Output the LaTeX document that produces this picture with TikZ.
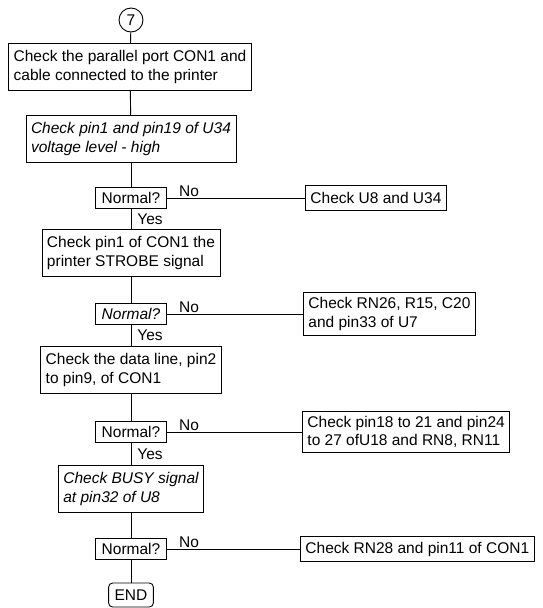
\documentclass[tikz,border=0pt]{standalone}
\usepackage{fontspec}
\setmainfont{Liberation Sans}
\usetikzlibrary{positioning, calc}

\begin{document}
\begin{tikzpicture}[x=1pt, y=-1pt, line width=0.9pt,
  every node/.style={font=\fontsize{15.5}{18.5}\selectfont},
  passo/.style={draw, align=left, inner xsep=5pt, inner ysep=7pt},
  domanda/.style={draw, minimum height=21pt, inner xsep=6pt, inner ysep=2pt},
  guasto/.style={draw, align=left, anchor=west, inner xsep=5pt, inner ysep=5pt},
  etsi/.style={right=5pt, inner sep=1pt},
  etno/.style={pos=0, anchor=south west, xshift=11pt, inner sep=1pt}]

  \useasboundingbox (0,0) rectangle (543,608);

  % Inizio
  \node[draw, circle, inner sep=0pt, minimum size=24pt] (start) at (131,20) {7};

  % Colonna principale
  \node[passo] (p1) at (130,67) {Check the parallel port CON1 and\\cable connected to the printer};
  \node[passo] (p2) at (131,139) {\itshape Check pin1 and pin19 of U34\\\itshape voltage level - high};
  \node[domanda] (n1) at (131,198) {Normal?};
  \node[passo] (p3) at (131,253) {Check pin1 of CON1 the\\printer STROBE signal};
  \node[domanda] (n2) at (131,314) {\itshape Normal?};
  \node[passo] (p4) at (131,370) {Check the data line, pin2\\to pin9, of CON1};
  \node[domanda] (n3) at (131,432) {Normal?};
  \node[passo] (p5) at (131,489) {\itshape Check BUSY signal\\\itshape at pin32 of U8};
  \node[domanda] (n4) at (131,549) {Normal?};
  \node[draw, rounded corners=4pt, minimum height=24pt, inner xsep=6pt] (fine) at (131,595) {END};

  % Rami "No"
  \node[guasto, minimum height=25pt] (f1) at (305,198) {Check U8 and U34};
  \node[guasto] (f2) at (303,314) {Check RN26, R15, C20\\and pin33 of U7};
  \node[guasto] (f3) at (302,432) {Check pin18 to 21 and pin24\\to 27 ofU18 and RN8, RN11};
  \node[guasto, minimum height=23pt] (f4) at (300,549) {Check RN28 and pin11 of CON1};

  % Collegamenti
  \draw (start) -- (p1);
  \draw (p1) -- (p2);
  \draw (p2) -- (n1);
  \draw (n1) -- node[etsi] {Yes} (p3);
  \draw (p3) -- (n2);
  \draw (n2) -- node[etsi] {Yes} (p4);
  \draw (p4) -- (n3);
  \draw (n3) -- node[etsi] {Yes} (p5);
  \draw (p5) -- (n4);
  \draw (n4) -- (fine);

  \draw (n1) -- node[etno] {No} (f1);
  \draw (n2) -- node[etno] {No} (f2);
  \draw (n3) -- node[etno] {No} (f3);
  \draw (n4) -- node[etno] {No} (f4);
\end{tikzpicture}
\end{document}
